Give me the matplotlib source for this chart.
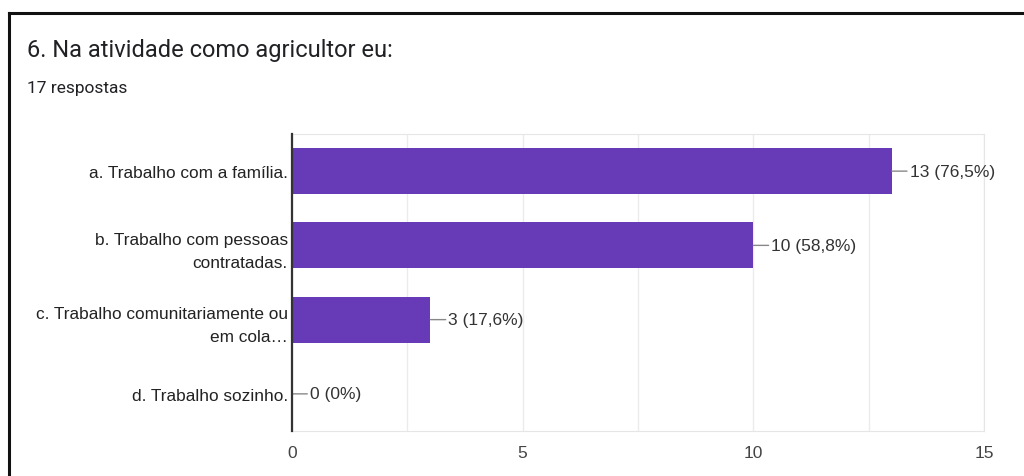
import numpy as np
import matplotlib.pyplot as plt
from matplotlib.lines import Line2D

categorias = ['a. Trabalho com a família.',
              'b. Trabalho com pessoas\ncontratadas.',
              'c. Trabalho comunitariamente ou\nem cola…',
              'd. Trabalho sozinho.']
respostas = [13, 10, 3, 0]
porcentagens = ['76,5%', '58,8%', '17,6%', '0%']
total = 17
xticks = [0, 5, 10, 15]

roxo = '#673ab7'

fig = plt.figure(figsize=(10.24, 4.77), dpi=100)
W, H = 1024, 477

# moldura preta (esquerda e topo)
fig.add_artist(Line2D([9 / W, 9 / W], [0, 1 - 14 / H], color='#111111', lw=2.2))
fig.add_artist(Line2D([9 / W, 1], [1 - 14 / H, 1 - 14 / H], color='#111111', lw=2.2))

fig.text(27 / W, 1 - 50 / H, '6. Na atividade como agricultor eu:', fontsize=17,
         family='Roboto', color='#202124', va='center')
fig.text(27 / W, 1 - 88 / H, f'{total} respostas', fontsize=12.5,
         family='Roboto', color='#202124', va='center')

ax = fig.add_axes([292 / W, 1 - 432 / H, (984 - 292) / W, (432 - 135) / H])
y = np.arange(len(categorias))
ax.barh(y, respostas, height=0.62, color=roxo, zorder=3)

ax.set_xlim(0, 15)
ax.set_ylim(len(categorias) - 0.5, -0.5)
grade = np.arange(0, 15.1, 2.5)
ax.set_xticks(grade)
ax.set_xticklabels([str(int(v)) if v in xticks else '' for v in grade])
ax.grid(axis='x', color='#ebebeb', lw=1, zorder=0)
ax.tick_params(axis='x', length=0, pad=10, labelsize=12.5, labelcolor='#444444')
ax.set_yticks(y)
ax.set_yticklabels(categorias, fontsize=12.4, color='#222222', linespacing=1.65)
ax.tick_params(axis='y', length=0, pad=3)
for lbl in ax.get_xticklabels() + ax.get_yticklabels():
    lbl.set_family('Liberation Sans')

for s in ['top', 'right', 'bottom']:
    ax.spines[s].set_color('#e6e6e6')
ax.spines['left'].set_color('#333333')
ax.spines['left'].set_linewidth(1.6)
ax.spines['left'].set_zorder(4)

for yi, v, p in zip(y, respostas, porcentagens):
    ax.annotate(f'{v} ({p})', xy=(v, yi), xytext=(13, 0), textcoords='offset points',
                va='center', ha='left', fontsize=12.5, color='#333333',
                family='Liberation Sans',
                arrowprops=dict(arrowstyle='-', color='#888888', lw=1,
                                shrinkA=0, shrinkB=0))

fig.savefig('out.png', dpi=100)
